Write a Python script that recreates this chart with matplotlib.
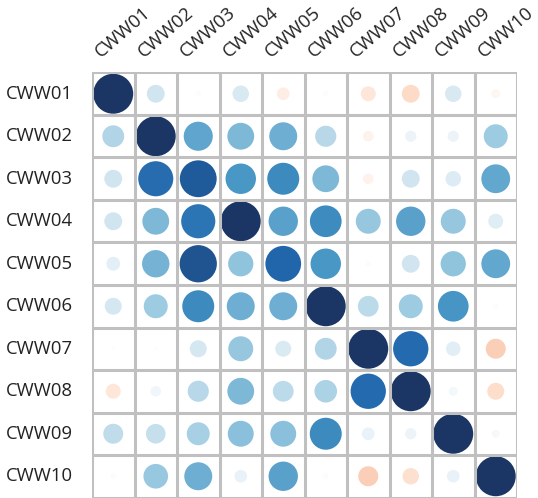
import matplotlib
matplotlib.use("Agg")
import matplotlib.pyplot as plt
import numpy as np
from matplotlib.colors import LinearSegmentedColormap
from matplotlib.patches import Circle

labels = ["CWW01", "CWW02", "CWW03", "CWW04", "CWW05",
          "CWW06", "CWW07", "CWW08", "CWW09", "CWW10"]

# correlation values, row by row
row01 = [1.00, 0.20, 0.02, 0.17, -0.10, 0.02, -0.14, -0.20, 0.17, -0.05]
row02 = [0.30, 1.00, 0.53, 0.45, 0.49, 0.28, -0.07, 0.08, 0.08, 0.36]
row03 = [0.20, 0.77, 0.85, 0.58, 0.64, 0.45, -0.07, 0.20, 0.15, 0.52]
row04 = [0.20, 0.45, 0.73, 1.00, 0.54, 0.63, 0.39, 0.54, 0.39, 0.14]
row05 = [0.12, 0.47, 0.87, 0.40, 0.80, 0.58, 0.02, 0.20, 0.40, 0.52]
row06 = [0.18, 0.36, 0.64, 0.49, 0.49, 1.00, 0.27, 0.36, 0.59, 0.02]
row07 = [0.01, 0.01, 0.18, 0.39, 0.16, 0.30, 1.00, 0.78, 0.13, -0.25]
row08 = [-0.14, 0.07, 0.28, 0.45, 0.27, 0.32, 0.78, 1.00, 0.05, -0.18]
row09 = [0.25, 0.24, 0.33, 0.42, 0.42, 0.64, 0.10, 0.08, 1.00, 0.04]
row10 = [0.02, 0.38, 0.49, 0.10, 0.54, 0.02, -0.25, -0.17, 0.10, 1.00]

corr = np.array([row01, row02, row03, row04, row05,
                 row06, row07, row08, row09, row10])

cmap = LinearSegmentedColormap.from_list(
    "rdbu_c",
    [(0.0, "#67001f"), (0.1, "#b2182b"), (0.2, "#d6604d"), (0.3, "#f4a582"),
     (0.4, "#fddbc7"), (0.5, "#ffffff"), (0.6, "#d1e5f0"), (0.7, "#92c5de"),
     (0.8, "#4393c3"), (0.9, "#2166ac"), (1.0, "#1b3664")])

fig = plt.figure(figsize=(5.38, 4.98), dpi=100)
ax = fig.add_axes([92 / 538, 0.0, 425 / 538, 426 / 498])
n = len(labels)
ax.set_xlim(0, n)
ax.set_ylim(n, 0)
ax.set_aspect("equal")

for i in range(n):
    for j in range(n):
        v = corr[i, j]
        r = 0.47 * np.sqrt(abs(v))
        ax.add_patch(Circle((j + 0.5, i + 0.5), r,
                            facecolor=cmap((v + 1) / 2), edgecolor="none"))

grid_c = "#c0c0c0"
for k in range(n + 1):
    ax.axhline(k, color=grid_c, lw=2.2, zorder=3)
    ax.axvline(k, color=grid_c, lw=2.2, zorder=3)

for s in ax.spines.values():
    s.set_visible(False)
ax.set_xticks([])
ax.set_yticks([])

for i, lab in enumerate(labels):
    ax.text(-0.45, i + 0.5, lab, ha="right", va="center",
            fontsize=13.3, family="Open Sans", color="#222222")
    ax.text(i + 0.22, -0.33, lab, ha="left", va="baseline", rotation=41,
            rotation_mode="anchor", fontsize=13.3, family="Open Sans",
            color="#222222")

fig.savefig("out.png", dpi=100)
